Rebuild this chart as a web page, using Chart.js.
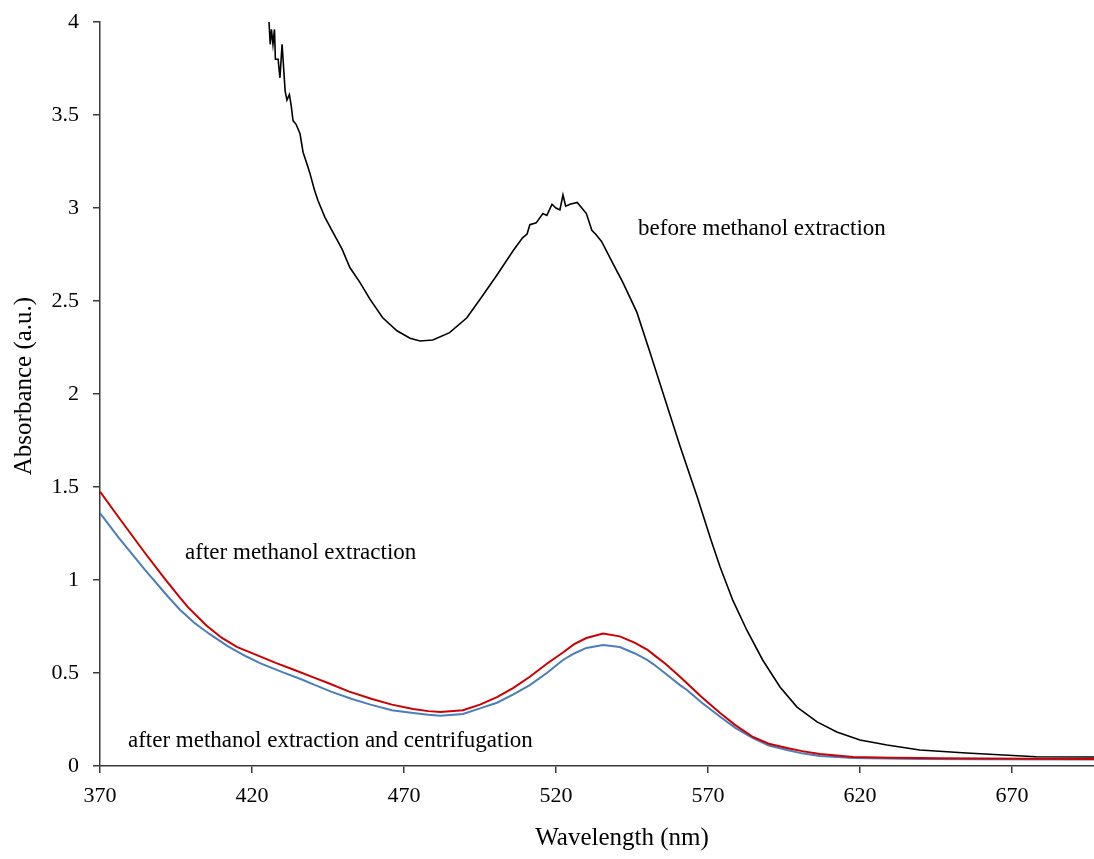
<!DOCTYPE html>
<html>
<head>
<meta charset="utf-8">
<title>Absorbance spectra</title>
<script src="https://cdn.jsdelivr.net/npm/chart.js@4/dist/chart.umd.min.js"></script>
<style>
  body { margin: 0; background: #fff; }
  #wrap { width: 1094px; height: 859px; }
</style>
</head>
<body>
<div id="wrap"><canvas id="spectra" width="1094" height="859"></canvas></div>
<script>
// wavelength (nm) / absorbance pairs for each spectrum
const beforeNm = [425.6, 426.0, 426.4, 426.9, 427.4, 427.7, 428.6, 429.2, 429.9, 430.9, 431.5, 432.3, 432.9, 433.5, 434.5,
  435.8, 436.8, 438.0, 439.0, 440.5, 441.7, 444.0, 446.6, 449.6, 452.2, 455.5, 458.8, 463.0, 467.7, 472.0, 475.3, 479.5,
  485.0, 490.7, 495.5, 500.6, 505.9, 509.0, 510.5, 511.4, 513.5, 515.7, 517.0, 518.7, 520.0, 521.3, 522.3, 523.2, 524.6,
  527.0, 528.5, 530.0, 531.8, 533.0, 535.0, 538.8, 542.0, 546.6, 551.0, 555.5, 560.8, 566.4, 571.0, 574.0, 578.2, 582.8,
  588.0, 593.7, 599.3, 605.9, 612.4, 620.0, 628.9, 639.7, 655.0, 678.0, 697.0];
const beforeAbs = [4.00, 3.88, 3.96, 3.88, 3.96, 3.80, 3.80, 3.70, 3.88, 3.63, 3.58, 3.61, 3.55, 3.47, 3.45,
  3.40, 3.30, 3.24, 3.19, 3.10, 3.04, 2.95, 2.87, 2.78, 2.68, 2.60, 2.51, 2.41, 2.34, 2.30, 2.285, 2.29,
  2.33, 2.41, 2.52, 2.64, 2.77, 2.84, 2.86, 2.91, 2.92, 2.97, 2.96, 3.02, 3.00, 2.99, 3.07, 3.01, 3.02,
  3.03, 3.00, 2.97, 2.88, 2.86, 2.82, 2.70, 2.60, 2.44, 2.22, 1.99, 1.72, 1.45, 1.215, 1.07, 0.89, 0.73,
  0.57, 0.425, 0.317, 0.237, 0.183, 0.14, 0.113, 0.086, 0.07, 0.05, 0.048];

const afterNm = [370, 376, 384.8, 391.4, 396.3, 399, 405, 410, 415, 421, 428, 434, 440, 445, 452, 459.5, 466, 473, 478,
  482, 489.4, 495, 500.6, 506, 511.4, 517, 522.3, 526, 530, 535.5, 541, 546, 550, 552, 556, 560.8, 563, 568, 574, 579,
  584.8, 590, 596, 601, 606.8, 617.7, 630, 640, 646, 660, 697];
const afterAbs = [1.475, 1.34, 1.145, 1.005, 0.905, 0.853, 0.755, 0.69, 0.64, 0.60, 0.553, 0.516, 0.478, 0.446, 0.40, 0.36,
  0.33, 0.306, 0.295, 0.29, 0.30, 0.33, 0.37, 0.42, 0.48, 0.55, 0.61, 0.655, 0.688, 0.712, 0.697, 0.662, 0.626, 0.60,
  0.55, 0.48, 0.446, 0.37, 0.285, 0.22, 0.156, 0.12, 0.097, 0.08, 0.065, 0.048, 0.045, 0.043, 0.042, 0.04, 0.038];

const centriNm = [370, 376, 384.8, 392.4, 396.3, 401, 406, 412, 418, 423, 430, 436.4, 440, 446, 452.9, 459, 466, 473, 478,
  482, 489.4, 495, 500.6, 506, 511.4, 517, 522.3, 526, 530, 535.5, 541, 546, 550, 552, 556, 560.8, 563, 568, 574, 579,
  584.8, 590, 596, 601, 606.8, 617.7, 640, 660, 697];
const centriAbs = [1.36, 1.23, 1.054, 0.91, 0.84, 0.77, 0.71, 0.645, 0.59, 0.55, 0.505, 0.465, 0.44, 0.40, 0.36, 0.33,
  0.30, 0.285, 0.275, 0.27, 0.28, 0.31, 0.34, 0.385, 0.435, 0.50, 0.57, 0.605, 0.635, 0.65, 0.64, 0.605, 0.57, 0.548,
  0.497, 0.435, 0.41, 0.34, 0.265, 0.205, 0.15, 0.11, 0.086, 0.068, 0.054, 0.043, 0.038, 0.036, 0.035];

const xTicks = [370, 420, 470, 520, 570, 620, 670];

// curve labels placed in data coordinates [nm, absorbance]
const curveLabels = [
  { text: "before methanol extraction", at: [547, 2.887] },
  { text: "after methanol extraction", at: [398, 1.145] },
  { text: "after methanol extraction and centrifugation", at: [379.2, 0.134] },
];

const SERIF = "'Liberation Serif', 'Times New Roman', serif";

function toPoints(xs, ys) {
  return xs.map((x, i) => ({ x: x, y: ys[i] }));
}

const labelPlugin = {
  id: "labelPlugin",
  afterDraw(chart) {
    const { ctx, scales } = chart;
    ctx.save();
    ctx.fillStyle = "#000";
    ctx.font = "23px " + SERIF;
    ctx.textAlign = "left";
    ctx.textBaseline = "middle";
    curveLabels.forEach((l) => {
      ctx.fillText(l.text, scales.x.getPixelForValue(l.at[0]), scales.y.getPixelForValue(l.at[1]));
    });

    // axis titles
    ctx.font = "25px " + SERIF;
    ctx.textAlign = "center";
    ctx.fillText("Wavelength (nm)", 622, 838);
    ctx.translate(24, 386);
    ctx.rotate(-Math.PI / 2);
    ctx.fillText("Absorbance (a.u.)", 0, 0);
    ctx.restore();
  },
};

const axisGrid = {
  drawOnChartArea: false,
  drawTicks: true,
  tickLength: 7,
  color: "#3a3a3a",
  lineWidth: 1.5,
};

const ctx = document.getElementById("spectra").getContext("2d");
const spectraChart = new Chart(ctx, {
  type: "line",
  data: {
    datasets: [
      {
        label: "before methanol extraction",
        data: toPoints(beforeNm, beforeAbs),
        borderColor: "#000000",
        borderWidth: 1.6,
      },
      {
        label: "after methanol extraction",
        data: toPoints(afterNm, afterAbs),
        borderColor: "#cc0000",
        borderWidth: 2,
      },
      {
        label: "after methanol extraction and centrifugation",
        data: toPoints(centriNm, centriAbs),
        borderColor: "#4a7ebb",
        borderWidth: 2,
      },
    ],
  },
  options: {
    responsive: false,
    animation: false,
    devicePixelRatio: 1,
    layout: { padding: { top: 22, right: 0, bottom: 0, left: 0 } },
    elements: {
      point: { radius: 0 },
      line: { tension: 0 },
    },
    plugins: {
      legend: { display: false },
      tooltip: { enabled: false },
    },
    scales: {
      x: {
        type: "linear",
        min: 370,
        max: 697,
        grid: axisGrid,
        border: { display: true, color: "#3a3a3a", width: 1.5 },
        afterBuildTicks: (scale) => {
          scale.ticks = xTicks.map((v) => ({ value: v }));
        },
        afterFit: (scale) => {
          scale.height = 93;
          scale.paddingLeft = 0;
          scale.paddingRight = 0;
        },
        ticks: {
          color: "#000",
          font: { family: SERIF, size: 22 },
          padding: 10,
          maxRotation: 0,
          autoSkip: false,
        },
      },
      y: {
        min: 0,
        max: 4,
        grid: axisGrid,
        border: { display: true, color: "#3a3a3a", width: 1.5 },
        afterFit: (scale) => {
          scale.width = 100;
          // let the layout padding alone set the top of the plot
          scale.paddingTop = 0;
          scale.paddingBottom = 0;
        },
        ticks: {
          stepSize: 0.5,
          color: "#000",
          font: { family: SERIF, size: 22 },
          padding: 14,
          callback: (v) => String(v),
        },
      },
    },
  },
  plugins: [labelPlugin],
});
</script>
</body>
</html>
